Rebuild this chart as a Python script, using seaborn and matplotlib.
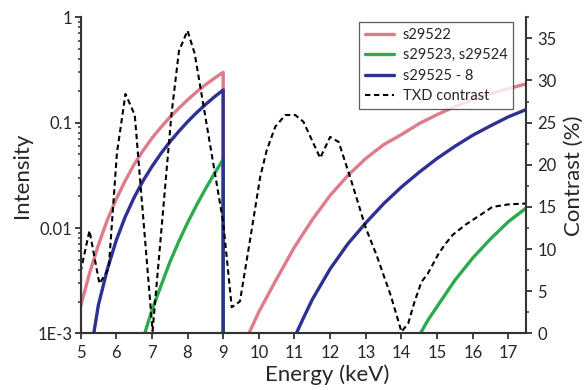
import pandas as pd
import seaborn as sns
import matplotlib.pyplot as plt
from matplotlib.ticker import LogLocator, NullFormatter, MultipleLocator

# intensity curves (energy in keV); two branches each
pink_e1 = [5.0, 5.25, 5.5, 5.75, 6.0, 6.25, 6.5, 6.75, 7.0, 7.25, 7.5, 7.75, 8.0, 8.25, 8.5, 8.75, 9.0, 9.0]
pink_i1 = [0.0018, 0.0037, 0.0069, 0.0119, 0.0188, 0.028, 0.040, 0.054, 0.071, 0.090, 0.112, 0.136, 0.164, 0.195, 0.228, 0.263, 0.30, 0.001]
pink_e2 = [9.72, 10.0, 10.25, 10.5, 11.0, 11.5, 12.0, 12.5, 13.0, 13.5, 14.0, 14.5, 15.0, 15.5, 16.0, 16.5, 17.0, 17.5]
pink_i2 = [0.001, 0.0016, 0.0023, 0.0033, 0.0066, 0.012, 0.0204, 0.0316, 0.0457, 0.0617, 0.077, 0.098, 0.119, 0.142, 0.165, 0.188, 0.21, 0.233]

green_e1 = [6.8, 7.0, 7.25, 7.5, 7.75, 8.0, 8.25, 8.5, 8.75, 9.0, 9.0]
green_i1 = [0.001, 0.00166, 0.0028, 0.0047, 0.0074, 0.0112, 0.0164, 0.0234, 0.0327, 0.0447, 0.001]
green_e2 = [14.53, 14.75, 15.0, 15.5, 16.0, 16.5, 17.0, 17.5]
green_i2 = [0.001, 0.00135, 0.0018, 0.0032, 0.0052, 0.0079, 0.0115, 0.0155]

blue_e1 = [5.37, 5.5, 5.75, 6.0, 6.25, 6.5, 6.75, 7.0, 7.25, 7.5, 7.75, 8.0, 8.25, 8.5, 8.75, 9.0, 9.0]
blue_i1 = [0.001, 0.00186, 0.00405, 0.00763, 0.0127, 0.0194, 0.0279, 0.0382, 0.0507, 0.0653, 0.0822, 0.1017, 0.1237, 0.148, 0.1748, 0.204, 0.001]
blue_e2 = [11.05, 11.25, 11.5, 12.0, 12.5, 13.0, 13.5, 14.0, 14.5, 15.0, 15.5, 16.0, 16.5, 17.0, 17.5]
blue_i2 = [0.001, 0.0014, 0.0021, 0.0041, 0.0071, 0.0112, 0.017, 0.0245, 0.0339, 0.0457, 0.0596, 0.0759, 0.0933, 0.1135, 0.133]

# TXD contrast (%), right axis
txd_e = [5.0, 5.25, 5.53, 5.79, 6.02, 6.26, 6.52, 7.02, 7.55, 7.76, 8.0, 8.2, 9.0, 9.24, 9.47,
         9.75, 10.04, 10.22, 10.46, 10.74, 11.02, 11.25, 11.72, 12.0, 12.24, 12.6, 13.0, 13.3,
         13.7, 14.0, 14.19, 14.37, 14.56, 14.74, 15.02, 15.21, 15.44, 15.8, 16.23, 16.55, 17.0, 17.47]
txd_c = [7.3, 12.2, 5.9, 7.7, 21.4, 28.4, 25.9, 0.3, 26.0, 33.5, 35.9, 33.2, 13.2, 3.1, 3.8,
         11.0, 18.6, 21.7, 24.5, 25.9, 25.9, 25.1, 20.8, 23.3, 22.7, 18.0, 12.5, 9.3,
         4.5, 0.2, 1.2, 3.8, 6.1, 7.1, 9.3, 10.5, 11.7, 12.9, 14.1, 15.0, 15.3, 15.4]

samples = ['s29522', 's29523, s29524', 's29525 - 8']
colors = ['#DE7B8C', '#2DAA4E', '#2E3192']

parts = [
    (samples[0], 'p1', pink_e1, pink_i1), (samples[0], 'p2', pink_e2, pink_i2),
    (samples[1], 'g1', green_e1, green_i1), (samples[1], 'g2', green_e2, green_i2),
    (samples[2], 'b1', blue_e1, blue_i1), (samples[2], 'b2', blue_e2, blue_i2),
]
df = pd.concat([pd.DataFrame({'energy': e, 'intensity': i, 'sample': s, 'seg': g})
                for s, g, e, i in parts], ignore_index=True)

sns.set_style('ticks')
plt.rcParams['font.family'] = ['Lato', 'DejaVu Sans']

fig = plt.figure(figsize=(5.88, 3.9), dpi=100)
ax = fig.add_axes([0.137, 0.145, 0.758, 0.811])
ax.set_yscale('log')

sns.lineplot(data=df, x='energy', y='intensity', hue='sample', units='seg', estimator=None,
             sort=False, palette=dict(zip(samples, colors)), lw=2.4, legend=False, ax=ax)

ax2 = ax.twinx()
sns.lineplot(x=txd_e, y=txd_c, color='black', lw=1.5, ax=ax2)
ax2.lines[0].set_dashes([2.6, 1.7])

ax.set_xlim(5, 17.5)
ax.set_ylim(1e-3, 1)
ax2.set_ylim(0, 37.5)

ax.set_xticks(range(5, 18))
ax.set_yticks([1e-3, 1e-2, 1e-1, 1], ['1E-3', '0.01', '0.1', '1'])
ax.yaxis.set_minor_locator(LogLocator(base=10, subs=range(2, 10)))
ax.yaxis.set_minor_formatter(NullFormatter())
ax2.yaxis.set_major_locator(MultipleLocator(5))
ax2.yaxis.set_minor_locator(MultipleLocator(2.5))

spine_c = '#333333'
for a in (ax, ax2):
    a.spines['top'].set_visible(False)
    for s in ('left', 'right', 'bottom'):
        a.spines[s].set_color(spine_c)
        a.spines[s].set_linewidth(1.5)
    a.tick_params(which='major', direction='out', length=4, width=1.3, color=spine_c,
                  labelsize=12, pad=2)
    a.tick_params(which='minor', direction='out', length=2.5, width=1.1, color=spine_c)
ax.spines['right'].set_visible(False)
ax.tick_params(axis='x', pad=4)
ax2.tick_params(axis='y', pad=4)

ax.set_xlabel('Energy (keV)', fontsize=16, labelpad=3)
ax.xaxis.label.set_x(0.553)
ax.set_ylabel('Intensity', fontsize=16, labelpad=4)
ax2.set_ylabel('Contrast (%)', fontsize=16, labelpad=5)

handles = ax.lines[:6:2] + [ax2.lines[0]]
leg = ax2.legend(handles, samples + ['TXD contrast'], loc='upper right',
                 bbox_to_anchor=(0.971, 0.985), borderaxespad=0, fontsize=10.5,
                 frameon=True, fancybox=False, handlelength=2.0, handletextpad=0.6,
                 labelspacing=0.45, borderpad=0.4)
leg.get_frame().set_edgecolor('#333333')
leg.get_frame().set_linewidth(0.9)
leg.set_zorder(10)

fig.savefig('out.png', dpi=100)
